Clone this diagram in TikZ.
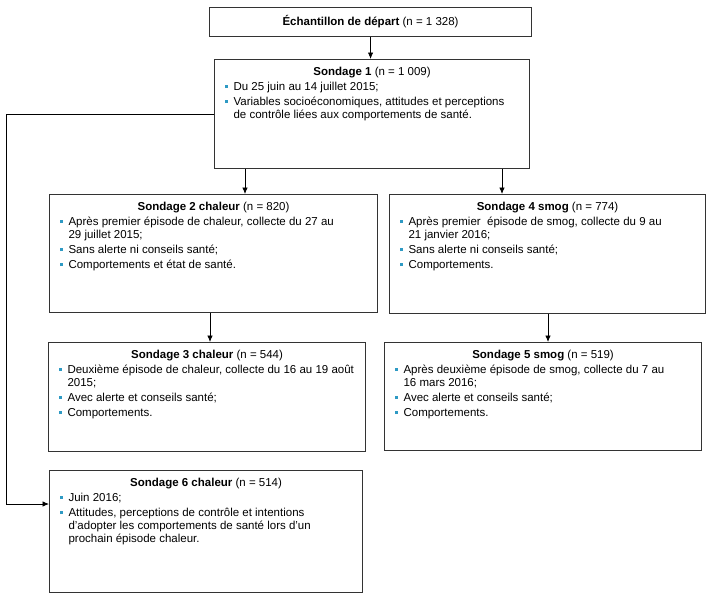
\documentclass[tikz,border=0pt]{standalone}
\usepackage{fontspec}
\setmainfont{Liberation Sans}
\usetikzlibrary{arrows.meta}
\definecolor{bul}{HTML}{2E9AC4}
\definecolor{edge}{HTML}{333333}
\newcommand\bitem[1]{\par\noindent\hangindent=19pt\hangafter=1\makebox[19pt][l]{\hspace{10pt}\textcolor{bul}{\rule[2.5pt]{3.2pt}{3.2pt}}}#1}
\newcommand\boxtext[4]{\parbox[c][#2][t]{#1}{\fontsize{11.5}{13}\selectfont\setlength\parskip{2pt}\centering\rule{0pt}{16pt}#3\par\raggedright #4\par}}
\tikzset{
  sbox/.style={draw=edge, line width=1.1pt, inner sep=0pt, anchor=north west, rectangle},
  arr/.style={draw=black, line width=0.8pt, -{Latex[length=6.5pt,width=5.5pt]}}
}
\begin{document}
\begin{tikzpicture}[x=1pt,y=1pt]
\useasboundingbox (0,0) rectangle (711,-598);
\node[sbox, minimum width=322pt, minimum height=29pt, font=\fontsize{11.5}{13}\selectfont] (top) at (209,-7) {\textbf{Échantillon de départ} (n = 1 328)};
\node[sbox] (s1) at (214,-59) {\boxtext{315pt}{109pt}{\textbf{Sondage 1} (n = 1 009)}{\bitem{Du 25 juin au 14 juillet 2015;}\bitem{Variables socioéconomiques, attitudes et perceptions\newline de contrôle liées aux comportements de santé.}}};
\node[sbox] (s2) at (49,-194) {\boxtext{328pt}{118pt}{\textbf{Sondage 2 chaleur} (n = 820)}{\bitem{Après premier épisode de chaleur, collecte du 27 au\newline 29 juillet 2015;}\bitem{Sans alerte ni conseils santé;}\bitem{Comportements et état de santé.}}};
\node[sbox] (s4) at (389,-194) {\boxtext{316pt}{119pt}{\textbf{Sondage 4 smog} (n = 774)}{\bitem{Après premier \ épisode de smog, collecte du 9 au\newline 21 janvier 2016;}\bitem{Sans alerte ni conseils santé;}\bitem{Comportements.}}};
\node[sbox] (s3) at (48,-342) {\boxtext{317pt}{109pt}{\textbf{Sondage 3 chaleur} (n = 544)}{\bitem{Deuxième épisode de chaleur, collecte du 16 au 19 août\newline 2015;}\bitem{Avec alerte et conseils santé;}\bitem{Comportements.}}};
\node[sbox] (s5) at (384,-342) {\boxtext{317pt}{108pt}{\textbf{Sondage 5 smog} (n = 519)}{\bitem{Après deuxième épisode de smog, collecte du 7 au\newline 16 mars 2016;}\bitem{Avec alerte et conseils santé;}\bitem{Comportements.}}};
\node[sbox] (s6) at (49,-470) {\boxtext{313pt}{122pt}{\textbf{Sondage 6 chaleur} (n = 514)}{\bitem{Juin 2016;}\bitem{Attitudes, perceptions de contrôle et intentions\newline d’adopter les comportements de santé lors d’un\newline prochain épisode chaleur.}}};
\coordinate (c12) at (245,0);
\coordinate (c14) at (502,0);
\coordinate (c23) at (210,0);
\coordinate (c45) at (548,0);
\coordinate (k1) at (6,-114.5);
\coordinate (k2) at (6,-504);
\draw[arr] (top.south) -- (top.south |- s1.north);
\draw[arr] (s1.south -| c12) -- (s2.north -| c12);
\draw[arr] (s1.south -| c14) -- (s4.north -| c14);
\draw[arr] (s2.south -| c23) -- (s3.north -| c23);
\draw[arr] (s4.south -| c45) -- (s5.north -| c45);
\draw[arr] (s1.west |- k1) -- (k1) -- (k2) -- (k2 -| s6.west);
\end{tikzpicture}
\end{document}
